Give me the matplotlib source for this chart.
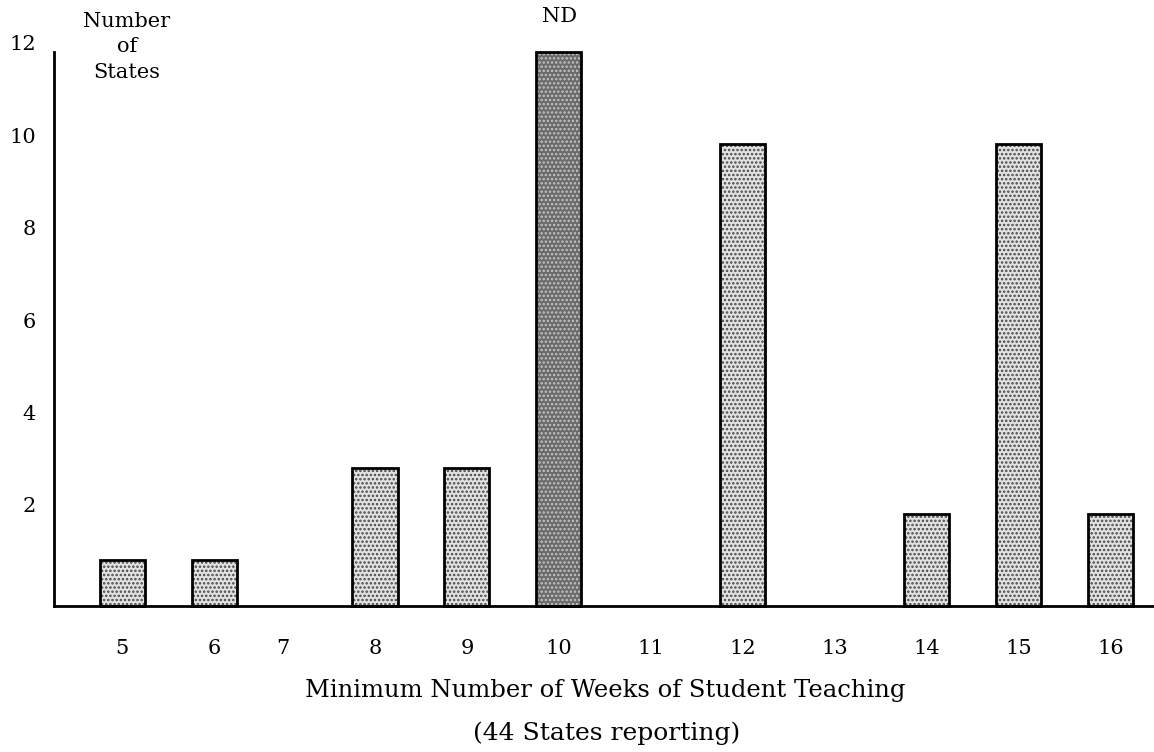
import matplotlib.pyplot as plt
import matplotlib.transforms as mtransforms

plt.rcParams['font.family'] = ['DejaVu Serif']
plt.rcParams['hatch.linewidth'] = 1.2

weeks = ['5', '6', '7', '8', '9', '10', '11', '12', '13', '14', '15', '16']
states = [1, 1, 0, 3, 3, 12, 0, 10, 0, 2, 10, 2]
highlight = '10'
y_ticks = [2, 4, 6, 8, 10, 12]

# the original spaces the first slots unevenly
xpos = [5.25, 6.25, 7.0, 8, 9, 10, 11, 12, 13, 14, 15, 16]

fig = plt.figure(figsize=(11.54, 7.52), dpi=100)
ax = fig.add_axes([54 / 1154, 146 / 752, 1100 / 1154, 554 / 752])

for x, w, v in zip(xpos, weeks, states):
    if v == 0:
        continue
    dark = w == highlight
    # stipple fill first, then the black outline on top
    ax.bar(x, v, width=0.49, facecolor='#6a6a6a' if dark else '#e2e2e2',
           edgecolor='#c4c4c4' if dark else '#484848',
           hatch='....', linewidth=0, clip_on=False, zorder=2)
    ax.bar(x, v, width=0.49, fill=False, edgecolor='black', linewidth=2,
           clip_on=False, zorder=3)

ax.set_xlim(4.51, 16.47)
ax.set_ylim(0, 12)
ax.spines['top'].set_visible(False)
ax.spines['right'].set_visible(False)
for s in ('left', 'bottom'):
    ax.spines[s].set_linewidth(2)

ax.set_xticks(xpos, weeks)
ax.set_yticks(y_ticks, [str(t) for t in y_ticks])
ax.tick_params(axis='both', length=0, labelsize=15)
ax.tick_params(axis='x', pad=24)
ax.tick_params(axis='y', pad=13)
shift = mtransforms.ScaledTranslation(0, 9 / 100, fig.dpi_scale_trans)
for lab in ax.get_yticklabels():
    lab.set_transform(lab.get_transform() + shift)

fig.text(127 / 1154, 1 - 47 / 752, 'Number\nof\nStates', ha='center', va='center',
         fontsize=15, linespacing=1.45)
fig.text(560 / 1154, 1 - 17 / 752, 'ND', ha='center', va='center', fontsize=15)
fig.text(605 / 1154, 1 - 690 / 752, 'Minimum Number of Weeks of Student Teaching',
         ha='center', va='center', fontsize=17.5)
fig.text(607 / 1154, 1 - 733 / 752, '(44 States reporting)',
         ha='center', va='center', fontsize=18)

fig.savefig('out.png', dpi=100)
